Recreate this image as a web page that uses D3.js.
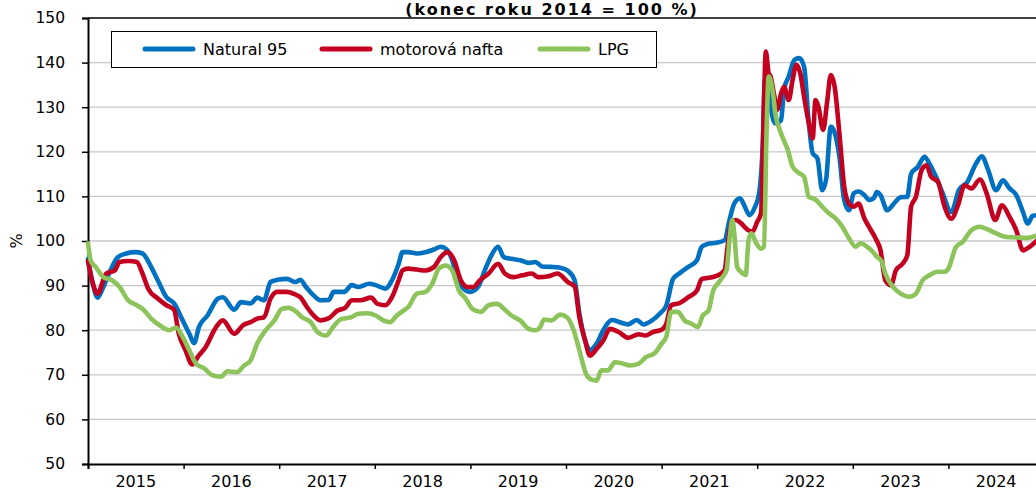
<!DOCTYPE html>
<html>
<head>
<meta charset="utf-8">
<script src="https://cdn.jsdelivr.net/npm/d3@7/dist/d3.min.js"></script>
<style>
  html, body { margin: 0; padding: 0; background: #fff; }
  svg { display: block; font-family: "DejaVu Sans", Verdana, sans-serif; }
</style>
</head>
<body>
<svg width="1036" height="491"></svg>
<script>
// ---------------- DATA ----------------
const title = "(konec roku 2014 = 100 %)";
const yearLabels = [2015, 2016, 2017, 2018, 2019, 2020, 2021, 2022, 2023, 2024];
const yTicks = [50, 60, 70, 80, 90, 100, 110, 120, 130, 140, 150];
const seriesNames = ["Natural 95", "motorová nafta", "LPG"];

// [time in decimal years, index value]
const natural95 = [
  [2015.00, 96.0], [2015.05, 90.5], [2015.10, 87.3], [2015.16, 89.7], [2015.22, 92.7],
  [2015.31, 96.3], [2015.40, 97.2], [2015.49, 97.5], [2015.57, 97.2], [2015.66, 94.2],
  [2015.73, 91.2], [2015.82, 87.4], [2015.90, 86.0], [2015.99, 82.2], [2016.06, 79.2],
  [2016.11, 77.1], [2016.16, 80.7], [2016.25, 83.3], [2016.36, 87.1], [2016.41, 87.4],
  [2016.53, 84.6], [2016.60, 86.3], [2016.70, 86.0], [2016.77, 87.3], [2016.84, 86.7],
  [2016.91, 90.8], [2016.98, 91.3], [2017.08, 91.5], [2017.17, 90.8], [2017.22, 91.3],
  [2017.28, 89.7], [2017.36, 87.8], [2017.43, 86.7], [2017.52, 86.8], [2017.57, 88.6],
  [2017.68, 88.6], [2017.76, 90.1], [2017.83, 89.7], [2017.94, 90.4], [2018.01, 90.1],
  [2018.11, 89.3], [2018.18, 91.2], [2018.25, 94.9], [2018.29, 97.5], [2018.35, 97.5],
  [2018.44, 97.2], [2018.53, 97.5], [2018.62, 98.1], [2018.69, 98.7], [2018.76, 97.9],
  [2018.81, 95.7], [2018.86, 91.9], [2018.93, 89.3], [2019.00, 88.6], [2019.08, 89.7],
  [2019.15, 93.4], [2019.22, 96.8], [2019.29, 98.7], [2019.35, 96.4], [2019.43, 96.0],
  [2019.52, 95.7], [2019.61, 95.1], [2019.68, 95.3], [2019.75, 94.3], [2019.84, 94.2],
  [2019.94, 94.0], [2020.02, 93.3], [2020.09, 91.2], [2020.14, 83.7], [2020.20, 77.7],
  [2020.25, 75.5], [2020.32, 77.0], [2020.39, 80.0], [2020.48, 82.3], [2020.56, 81.8],
  [2020.65, 81.3], [2020.74, 82.3], [2020.81, 81.3], [2020.90, 82.2], [2020.98, 83.7],
  [2021.05, 85.6], [2021.12, 91.5], [2021.19, 92.8], [2021.28, 94.2], [2021.37, 95.7],
  [2021.42, 98.7], [2021.49, 99.4], [2021.57, 99.6], [2021.66, 100.2], [2021.71, 104.7],
  [2021.76, 108.4], [2021.82, 109.6], [2021.87, 107.7], [2021.92, 105.8], [2021.97, 107.3],
  [2022.02, 110.7], [2022.06, 122.6], [2022.08, 136.1], [2022.11, 135.4], [2022.14, 130.1],
  [2022.19, 126.4], [2022.25, 127.1], [2022.28, 133.9], [2022.33, 136.9], [2022.39, 140.6],
  [2022.44, 141.0], [2022.49, 139.1], [2022.54, 126.4], [2022.58, 119.7], [2022.63, 118.5],
  [2022.68, 111.4], [2022.72, 113.7], [2022.77, 125.6], [2022.80, 124.9], [2022.86, 118.9],
  [2022.91, 109.2], [2022.96, 106.9], [2023.01, 110.7], [2023.06, 111.1], [2023.12, 110.3],
  [2023.17, 109.2], [2023.22, 109.6], [2023.25, 111.0], [2023.29, 110.3], [2023.36, 106.9],
  [2023.43, 108.4], [2023.50, 109.8], [2023.57, 109.9], [2023.61, 115.1], [2023.68, 116.6],
  [2023.75, 118.9], [2023.80, 117.4], [2023.87, 114.4], [2023.94, 110.7], [2024.03, 106.5],
  [2024.11, 111.4], [2024.20, 113.3], [2024.29, 117.4], [2024.35, 119.0], [2024.41, 116.3],
  [2024.50, 111.4], [2024.57, 113.6], [2024.64, 111.8], [2024.71, 110.3], [2024.78, 106.5],
  [2024.83, 103.9], [2024.88, 105.6], [2024.93, 105.8]
];

const nafta = [
  [2015.00, 95.5], [2015.05, 90.5], [2015.10, 88.2], [2015.19, 92.7], [2015.28, 93.4],
  [2015.33, 95.3], [2015.42, 95.5], [2015.51, 95.3], [2015.57, 92.7], [2015.63, 89.3],
  [2015.73, 87.1], [2015.82, 85.6], [2015.90, 84.6], [2015.95, 79.2], [2016.02, 75.5],
  [2016.09, 72.3], [2016.15, 74.1], [2016.23, 76.2], [2016.34, 80.7], [2016.41, 82.2],
  [2016.53, 79.2], [2016.62, 81.1], [2016.70, 81.8], [2016.77, 82.6], [2016.84, 82.9],
  [2016.91, 87.1], [2016.98, 88.6], [2017.08, 88.6], [2017.17, 88.0], [2017.22, 87.4],
  [2017.29, 85.2], [2017.36, 83.3], [2017.43, 82.2], [2017.52, 82.7], [2017.61, 84.4],
  [2017.69, 85.0], [2017.76, 86.7], [2017.85, 86.7], [2017.96, 87.3], [2018.03, 85.9],
  [2018.11, 85.6], [2018.18, 87.4], [2018.25, 91.2], [2018.29, 93.4], [2018.35, 93.8],
  [2018.44, 93.6], [2018.53, 93.4], [2018.62, 94.2], [2018.69, 96.4], [2018.76, 97.5],
  [2018.83, 95.7], [2018.90, 91.2], [2018.97, 89.7], [2019.03, 89.7], [2019.10, 91.2],
  [2019.19, 92.7], [2019.29, 94.9], [2019.36, 92.7], [2019.45, 91.9], [2019.54, 92.3],
  [2019.64, 92.7], [2019.71, 91.9], [2019.82, 92.1], [2019.91, 92.7], [2020.02, 90.8],
  [2020.09, 89.8], [2020.14, 82.9], [2020.20, 77.7], [2020.25, 74.3], [2020.32, 75.8],
  [2020.39, 77.7], [2020.46, 80.3], [2020.55, 79.6], [2020.65, 78.3], [2020.76, 79.1],
  [2020.83, 78.8], [2020.91, 79.6], [2021.00, 80.1], [2021.05, 81.5], [2021.10, 85.6],
  [2021.19, 86.1], [2021.28, 87.4], [2021.37, 88.9], [2021.42, 91.5], [2021.51, 91.8],
  [2021.59, 92.3], [2021.66, 93.5], [2021.69, 98.7], [2021.73, 104.3], [2021.78, 104.7],
  [2021.83, 104.0], [2021.90, 102.5], [2021.95, 102.1], [2022.00, 104.3], [2022.04, 106.2],
  [2022.07, 130.1], [2022.09, 142.5], [2022.12, 137.6], [2022.14, 136.9], [2022.18, 132.4],
  [2022.21, 129.4], [2022.25, 133.1], [2022.28, 134.6], [2022.33, 131.6], [2022.37, 136.1],
  [2022.41, 139.5], [2022.45, 137.6], [2022.49, 132.4], [2022.54, 126.4], [2022.58, 123.0],
  [2022.61, 131.6], [2022.64, 130.1], [2022.69, 124.9], [2022.73, 130.9], [2022.77, 137.2],
  [2022.81, 134.6], [2022.86, 124.1], [2022.91, 112.2], [2022.96, 108.4], [2023.01, 107.7],
  [2023.06, 108.4], [2023.12, 105.1], [2023.18, 102.8], [2023.24, 100.5], [2023.29, 97.9],
  [2023.34, 91.2], [2023.40, 90.1], [2023.45, 93.4], [2023.52, 94.9], [2023.57, 96.8],
  [2023.61, 107.7], [2023.66, 109.9], [2023.72, 115.9], [2023.77, 117.0], [2023.82, 114.4],
  [2023.89, 113.3], [2023.96, 107.7], [2024.03, 105.0], [2024.10, 108.0], [2024.17, 112.5],
  [2024.24, 111.8], [2024.33, 113.8], [2024.40, 110.7], [2024.49, 104.7], [2024.56, 108.0],
  [2024.64, 105.4], [2024.71, 102.4], [2024.78, 97.9], [2024.85, 98.7], [2024.93, 100.2]
];

const lpg = [
  [2015.00, 99.5], [2015.03, 95.5], [2015.08, 94.2], [2015.16, 91.9], [2015.25, 91.2],
  [2015.33, 89.7], [2015.42, 86.7], [2015.51, 85.6], [2015.59, 84.4], [2015.66, 82.6],
  [2015.75, 81.1], [2015.85, 80.0], [2015.92, 80.6], [2015.99, 78.5], [2016.06, 75.5],
  [2016.13, 72.5], [2016.22, 71.4], [2016.30, 69.9], [2016.39, 69.6], [2016.46, 70.8],
  [2016.56, 70.6], [2016.63, 72.0], [2016.70, 73.2], [2016.77, 77.0], [2016.86, 80.0],
  [2016.95, 82.2], [2017.03, 84.8], [2017.10, 85.0], [2017.17, 84.3], [2017.24, 82.9],
  [2017.33, 81.8], [2017.40, 79.6], [2017.49, 78.8], [2017.56, 80.6], [2017.64, 82.4],
  [2017.75, 82.9], [2017.83, 83.7], [2017.92, 83.8], [2018.01, 83.3], [2018.09, 82.2],
  [2018.16, 81.8], [2018.23, 83.3], [2018.30, 84.4], [2018.35, 85.2], [2018.44, 88.2],
  [2018.53, 88.6], [2018.60, 90.4], [2018.67, 93.8], [2018.74, 94.5], [2018.81, 93.4],
  [2018.88, 88.9], [2018.95, 87.1], [2019.02, 84.8], [2019.11, 84.1], [2019.19, 85.6],
  [2019.28, 85.9], [2019.35, 84.8], [2019.43, 83.3], [2019.52, 82.2], [2019.61, 80.3],
  [2019.68, 80.0], [2019.73, 80.7], [2019.77, 82.4], [2019.85, 82.2], [2019.94, 83.5],
  [2020.01, 82.9], [2020.08, 80.0], [2020.14, 75.5], [2020.21, 70.2], [2020.27, 68.9],
  [2020.32, 68.7], [2020.37, 71.0], [2020.44, 71.0], [2020.51, 72.8], [2020.58, 72.6],
  [2020.67, 72.1], [2020.76, 72.5], [2020.84, 74.0], [2020.93, 74.9], [2021.00, 77.0],
  [2021.05, 78.6], [2021.10, 84.1], [2021.17, 84.1], [2021.24, 82.2], [2021.31, 81.5],
  [2021.38, 80.7], [2021.43, 83.3], [2021.49, 84.4], [2021.54, 88.9], [2021.59, 90.5],
  [2021.64, 92.0], [2021.68, 93.5], [2021.71, 100.2], [2021.74, 104.7], [2021.76, 101.7],
  [2021.79, 94.2], [2021.83, 93.1], [2021.88, 92.4], [2021.91, 100.2], [2021.94, 101.7],
  [2021.99, 99.5], [2022.04, 98.3], [2022.07, 98.7], [2022.10, 126.4], [2022.12, 136.9],
  [2022.16, 133.9], [2022.19, 128.6], [2022.25, 124.1], [2022.32, 120.4], [2022.37, 116.7],
  [2022.44, 115.2], [2022.49, 114.4], [2022.54, 109.9], [2022.61, 109.3], [2022.68, 107.7],
  [2022.75, 106.2], [2022.82, 105.1], [2022.89, 103.2], [2022.96, 100.6], [2023.03, 98.7],
  [2023.08, 99.5], [2023.15, 98.7], [2023.20, 97.8], [2023.25, 96.5], [2023.30, 95.5],
  [2023.34, 92.7], [2023.42, 89.7], [2023.50, 88.2], [2023.59, 87.5], [2023.66, 88.2],
  [2023.73, 91.2], [2023.80, 92.3], [2023.89, 93.1], [2023.96, 93.1], [2024.00, 93.8],
  [2024.08, 98.7], [2024.15, 99.8], [2024.24, 102.4], [2024.33, 103.2], [2024.41, 102.6],
  [2024.50, 101.7], [2024.61, 100.9], [2024.71, 100.8], [2024.82, 100.7], [2024.93, 101.3]
];

const colors = ["#0070c0", "#c3001f", "#8cc35a"];

// ---------------- LAYOUT ----------------
const svg = d3.select("svg");
const margin = {top: 18, left: 88, bottom: 27},
      W = 1036, H = 491,
      yearW = 95.6;

const x = d3.scaleLinear()
            .domain([2015, 2025])
            .range([margin.left, margin.left + 10 * yearW]);
const y = d3.scaleLinear()
            .domain([50, 150])
            .range([H - margin.bottom, margin.top]);

// title
svg.append("text")
   .attr("x", 552).attr("y", 15)
   .attr("text-anchor", "middle")
   .attr("font-weight", "bold")
   .attr("font-size", "16px")
   .attr("letter-spacing", "2px")
   .text(title);

// gridlines
svg.append("g")
   .selectAll("line")
   .data(yTicks.filter(d => d > 50 && d < 150))
   .enter().append("line")
   .attr("x1", margin.left).attr("x2", W)
   .attr("y1", d => y(d)).attr("y2", d => y(d))
   .attr("stroke", "#c8c8c8")
   .attr("stroke-width", 1.3);

// top border of plot area
svg.append("line")
   .attr("x1", margin.left).attr("x2", W)
   .attr("y1", y(150)).attr("y2", y(150))
   .attr("stroke", "#000").attr("stroke-width", 1.5);

//--------------AXES----------------------------------------
const yAxis = svg.append("g")
   .attr("transform", `translate(${margin.left},0)`)
   .call(d3.axisLeft(y).tickValues(yTicks).tickSize(6).tickPadding(17));
yAxis.select(".domain").attr("stroke-width", 2);
yAxis.selectAll(".tick line").attr("stroke-width", 1.5);
yAxis.selectAll("text")
     .attr("font-size", "15.5px")
     .attr("font-family", "DejaVu Sans, sans-serif")
     .attr("fill", "#000");

const xAxis = svg.append("g")
   .attr("transform", `translate(0,${y(50)})`)
   .call(d3.axisBottom(x).tickValues(d3.range(2015, 2026)).tickSize(5).tickFormat(""));
xAxis.select(".domain").attr("stroke-width", 2);
xAxis.selectAll(".tick line").attr("stroke-width", 1.5);

svg.append("g")
   .selectAll("text")
   .data(yearLabels)
   .enter().append("text")
   .attr("x", d => x(d + 0.5))
   .attr("y", 487)
   .attr("text-anchor", "middle")
   .attr("font-size", "16px")
   .text(d => d);

svg.append("text")
   .attr("transform", `translate(22,${y(100)}) rotate(-90)`)
   .attr("text-anchor", "middle")
   .attr("font-size", "16px")
   .text("%");

//-------------LINES----------------------------------------------
const line = d3.line()
               .x(d => x(d[0]))
               .y(d => y(d[1]))
               .curve(d3.curveMonotoneX);

svg.append("g")
   .selectAll("path")
   .data([natural95, nafta, lpg])
   .enter().append("path")
   .attr("fill", "none")
   .attr("stroke", (d, i) => colors[i])
   .attr("stroke-width", 4.6)
   .attr("stroke-linejoin", "round")
   .attr("stroke-linecap", "round")
   .attr("d", line);

//-------------LEGEND----------------------------------------------
const legend = svg.append("g");
legend.append("rect")
      .attr("x", 111.5).attr("y", 31.5)
      .attr("width", 545).attr("height", 36)
      .attr("fill", "#fff")
      .attr("stroke", "#000");

const legendX = [145, 322, 540];
const items = legend.selectAll("g.item")
      .data(seriesNames)
      .enter().append("g")
      .attr("class", "item")
      .attr("transform", (d, i) => `translate(${legendX[i]},49)`);
items.append("line")
     .attr("x1", 0).attr("x2", 48)
     .attr("stroke", (d, i) => colors[i])
     .attr("stroke-width", 5)
     .attr("stroke-linecap", "round");
items.append("text")
     .attr("x", 58)
     .attr("y", 6)
     .attr("font-size", "16px")
     .text(d => d);
</script>
</body>
</html>
